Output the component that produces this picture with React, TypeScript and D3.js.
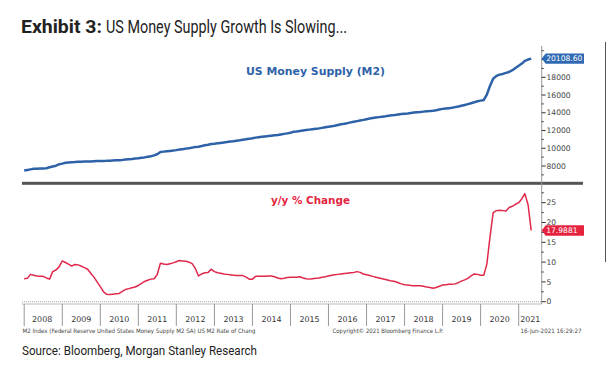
import * as d3 from "d3";
import React from "react";

// monthly values, Jan 2008 .. May 2021
const m2Level = [
  7500, 7560, 7620, 7680, 7700, 7710, 7720, 7750, 7850, 7950, 8030, 8190,
  8270, 8370, 8400, 8420, 8440, 8470, 8490, 8500, 8510, 8520, 8540, 8550,
  8560, 8570, 8580, 8600, 8620, 8640, 8660, 8690, 8730, 8770, 8800, 8840,
  8870, 8930, 8970, 9040, 9100, 9200, 9330, 9580, 9620, 9660, 9700, 9740,
  9790, 9850, 9900, 9960, 10000, 10070, 10130, 10180, 10250, 10340, 10400, 10490,
  10520, 10560, 10600, 10650, 10700, 10760, 10800, 10850, 10900, 10960, 11020, 11060,
  11130, 11200, 11240, 11290, 11330, 11370, 11420, 11460, 11500, 11560, 11620, 11680,
  11740, 11870, 11900, 11950, 12000, 12050, 12100, 12150, 12200, 12240, 12300, 12360,
  12420, 12480, 12540, 12620, 12700, 12760, 12830, 12920, 12990, 13060, 13140, 13200,
  13280, 13350, 13410, 13460, 13510, 13560, 13600, 13660, 13710, 13750, 13800, 13850,
  13890, 13930, 13980, 14020, 14060, 14090, 14130, 14170, 14200, 14240, 14290, 14360,
  14440, 14480, 14520, 14560, 14640, 14710, 14790, 14880, 14980, 15080, 15180, 15300,
  15370, 15450, 16050, 17050, 17850, 18150, 18300, 18380, 18500, 18600, 18800, 19050,
  19300, 19550, 19850, 20000, 20108.6,
];

const m2YoY = [
  5.8, 5.9, 6.9, 6.7, 6.5, 6.4, 6.4, 6.0, 5.7, 7.6, 8.0, 8.8,
  10.3, 9.9, 9.5, 9.0, 9.4, 9.3, 9.0, 8.6, 8.2, 7.2, 6.2, 5.0,
  3.8, 2.5, 1.9, 1.8, 1.9, 2.0, 2.1, 2.6, 3.1, 3.3, 3.5, 3.7,
  4.1, 4.6, 5.1, 5.4, 5.7, 5.8, 6.8, 9.7, 9.5, 9.4, 9.6, 9.8,
  10.1, 10.4, 10.3, 10.2, 10.0, 9.6, 8.4, 6.5, 7.0, 7.3, 7.4, 8.2,
  7.6, 7.3, 7.2, 7.0, 6.9, 6.8, 6.7, 6.6, 6.6, 6.6, 6.2, 5.7,
  5.7, 6.4, 6.4, 6.4, 6.4, 6.5, 6.5, 6.3, 6.0, 5.8, 5.9, 6.1,
  6.2, 6.2, 6.2, 6.3, 6.0, 5.8, 5.7, 5.8, 5.9, 6.0, 6.2, 6.3,
  6.5, 6.7, 6.8, 6.9, 7.0, 7.1, 7.2, 7.3, 7.4, 7.6, 7.4, 7.0,
  6.8, 6.6, 6.4, 6.2, 6.0, 5.8, 5.6, 5.4, 5.2, 5.1, 4.8, 4.5,
  4.3, 4.2, 4.1, 4.0, 4.0, 4.0, 3.9, 3.7, 3.6, 3.4, 3.6, 3.9,
  4.2, 4.3, 4.4, 4.4, 4.5, 4.8, 5.2, 5.5, 5.9, 6.5, 7.0, 6.9,
  6.7, 6.7, 9.5, 16.5, 22.5, 23.0, 23.1, 23.0, 22.9, 23.8, 24.1, 24.6,
  25.0, 26.0, 27.3, 24.5, 17.9881,
];

const yearLabels = ["2008", "2009", "2010", "2011", "2012", "2013", "2014", "2015", "2016", "2017", "2018", "2019", "2020", "2021"];
const levelTicks = [8000, 10000, 12000, 14000, 16000, 18000];
const yoyTicks = [0, 5, 10, 15, 20, 25];

const W = 607;
const H = 372;

export default function App() {
  const svgRef = React.useRef(null);

  React.useEffect(() => {
    const svg = d3.select(svgRef.current);
    svg.selectAll("*").remove();

    const left = 22;
    const axisX = 541.7;
    const dates = m2Level.map((_, i) => new Date(2008, i, 1));

    const x = d3
      .scaleTime()
      .domain([new Date(2009, 0, 1), new Date(2021, 0, 1)])
      .range([62.3, 518.7]);
    const yTop = d3.scaleLinear().domain([8000, 18000]).range([166, 77.3]);
    const yBot = d3.scaleLinear().domain([0, 25]).range([301.7, 202.7]);

    svg.append("rect").attr("width", W).attr("height", H).attr("fill", "#fff");

    // title
    const title = svg.append("text").attr("y", 33).attr("font-family", "Roboto").attr("font-size", 17.5).attr("fill", "#222");
    title.append("tspan").attr("x", 21).attr("font-weight", "bold").attr("textLength", 81).attr("lengthAdjust", "spacingAndGlyphs").text("Exhibit 3:");
    title.append("tspan").attr("x", 106).attr("textLength", 241).attr("lengthAdjust", "spacingAndGlyphs").text("US Money Supply Growth Is Slowing...");

    // right border
    svg.append("line").attr("x1", 605.5).attr("x2", 605.5).attr("y1", 42).attr("y2", 262).attr("stroke", "#555").attr("stroke-width", 1);

    // panel titles
    svg.append("text").attr("x", 246).attr("y", 75).attr("font-family", "DejaVu Sans").attr("font-weight", "bold")
      .attr("font-size", 10.5).attr("fill", "#2e62a8").attr("textLength", 139).attr("lengthAdjust", "spacingAndGlyphs")
      .text("US Money Supply (M2)");
    svg.append("text").attr("x", 271).attr("y", 203.5).attr("font-family", "DejaVu Sans").attr("font-weight", "bold")
      .attr("font-size", 10.5).attr("fill", "#e3263f").attr("textLength", 79).attr("lengthAdjust", "spacingAndGlyphs")
      .text("y/y % Change");

    // zero line and x axis base
    svg.append("line").attr("x1", left).attr("x2", axisX).attr("y1", yBot(0)).attr("y2", yBot(0))
      .attr("stroke", "#aaa").attr("stroke-dasharray", "1,1").attr("stroke-width", 1);
    svg.append("line").attr("x1", left).attr("x2", axisX).attr("y1", 304).attr("y2", 304).attr("stroke", "#bbb").attr("stroke-width", 1);

    // year separators and labels
    const bounds = yearLabels.map((y) => x(new Date(+y, 0, 1)));
    bounds.forEach((bx) => {
      svg.append("line").attr("x1", bx).attr("x2", bx).attr("y1", 304).attr("y2", 326).attr("stroke", "#999").attr("stroke-width", 1);
    });
    yearLabels.forEach((lab, i) => {
      const a = i === 0 ? left : bounds[i];
      const b = i + 1 < bounds.length ? bounds[i + 1] : axisX;
      svg.append("text").attr("x", (a + b) / 2).attr("y", 322).attr("text-anchor", "middle")
        .attr("font-family", "DejaVu Sans").attr("font-size", 7.9).attr("fill", "#333").text(lab);
    });

    // lines
    const levelLine = d3.line<number>().x((_, i) => x(dates[i])).y((d) => yTop(d));
    svg.append("path").attr("d", levelLine(m2Level)).attr("fill", "none").attr("stroke", "#2e62a8").attr("stroke-width", 2.5).attr("stroke-linejoin", "round");
    const yoyLine = d3.line<number>().x((_, i) => x(dates[i])).y((d) => yBot(d));
    svg.append("path").attr("d", yoyLine(m2YoY)).attr("fill", "none").attr("stroke", "#e0284a").attr("stroke-width", 1.5).attr("stroke-linejoin", "round");

    // separator between panels
    svg.append("rect").attr("x", left).attr("y", 181.8).attr("width", 583 - left).attr("height", 3).attr("fill", "#555");

    // right axis
    svg.append("line").attr("x1", axisX).attr("x2", axisX).attr("y1", 46).attr("y2", 304).attr("stroke", "#999").attr("stroke-width", 1);
    d3.range(7000, 21001, 1000).forEach((v) => {
      const yy = yTop(v);
      if (yy < 48 || yy > 180) return;
      const major = levelTicks.includes(v);
      svg.append("line").attr("x1", axisX).attr("x2", axisX + (major ? 4 : 2)).attr("y1", yy).attr("y2", yy).attr("stroke", "#333").attr("stroke-width", 1);
    });
    levelTicks.forEach((v) => {
      svg.append("text").attr("x", 546.5).attr("y", yTop(v)).attr("dy", "0.35em")
        .attr("font-family", "DejaVu Sans").attr("font-size", 7.6).attr("fill", "#444").text(String(v));
    });
    d3.range(0, 30, 2.5).forEach((v) => {
      const yy = yBot(v);
      const major = yoyTicks.includes(v);
      svg.append("line").attr("x1", axisX).attr("x2", axisX + (major ? 4 : 2)).attr("y1", yy).attr("y2", yy).attr("stroke", "#333").attr("stroke-width", 1);
    });
    yoyTicks.forEach((v) => {
      svg.append("text").attr("x", 546.5).attr("y", yBot(v)).attr("dy", "0.35em")
        .attr("font-family", "DejaVu Sans").attr("font-size", 7.6).attr("fill", "#444").text(String(v));
    });

    // last value tags
    const tag = (yy: number, fill: string, label: string) => {
      svg.append("path").attr("d", `M${axisX},${yy} L${axisX + 4},${yy - 5.2} H584 V${yy + 5.2} H${axisX + 4} Z`).attr("fill", fill);
      svg.append("text").attr("x", axisX + 4.5).attr("y", yy).attr("dy", "0.36em").attr("font-family", "DejaVu Sans")
        .attr("font-size", 7.6).attr("fill", "#fff").text(label);
    };
    tag(yTop(m2Level[m2Level.length - 1]), "#2f68b3", "20108.60");
    tag(yBot(m2YoY[m2YoY.length - 1]), "#e5233f", "17.9881");

    // footer
    const small = (xx: number, txt: string, len: number) =>
      svg.append("text").attr("x", xx).attr("y", 332.5).attr("font-family", "DejaVu Sans").attr("font-size", 6)
        .attr("fill", "#444").attr("textLength", len).attr("lengthAdjust", "spacingAndGlyphs").text(txt);
    small(22.5, "M2 Index (Federal Reserve United States Money Supply M2 SA) US M2 Rate of Chang", 233);
    small(332.5, "Copyright\u00a9 2021 Bloomberg Finance L.P.", 111);
    small(520.5, "16-Jun-2021 16:29:27", 61);

    svg.append("text").attr("x", 22).attr("y", 355).attr("font-family", "Roboto").attr("font-size", 12.5)
      .attr("fill", "#222").attr("textLength", 235).attr("lengthAdjust", "spacingAndGlyphs")
      .text("Source: Bloomberg, Morgan Stanley Research");
  }, []);

  return (
    <svg
      ref={svgRef}
      width={W}
      height={H}
      viewBox={`0 0 ${W} ${H}`}
      style={{ position: "absolute", left: 0, top: 0 }}
    ></svg>
  );
}
